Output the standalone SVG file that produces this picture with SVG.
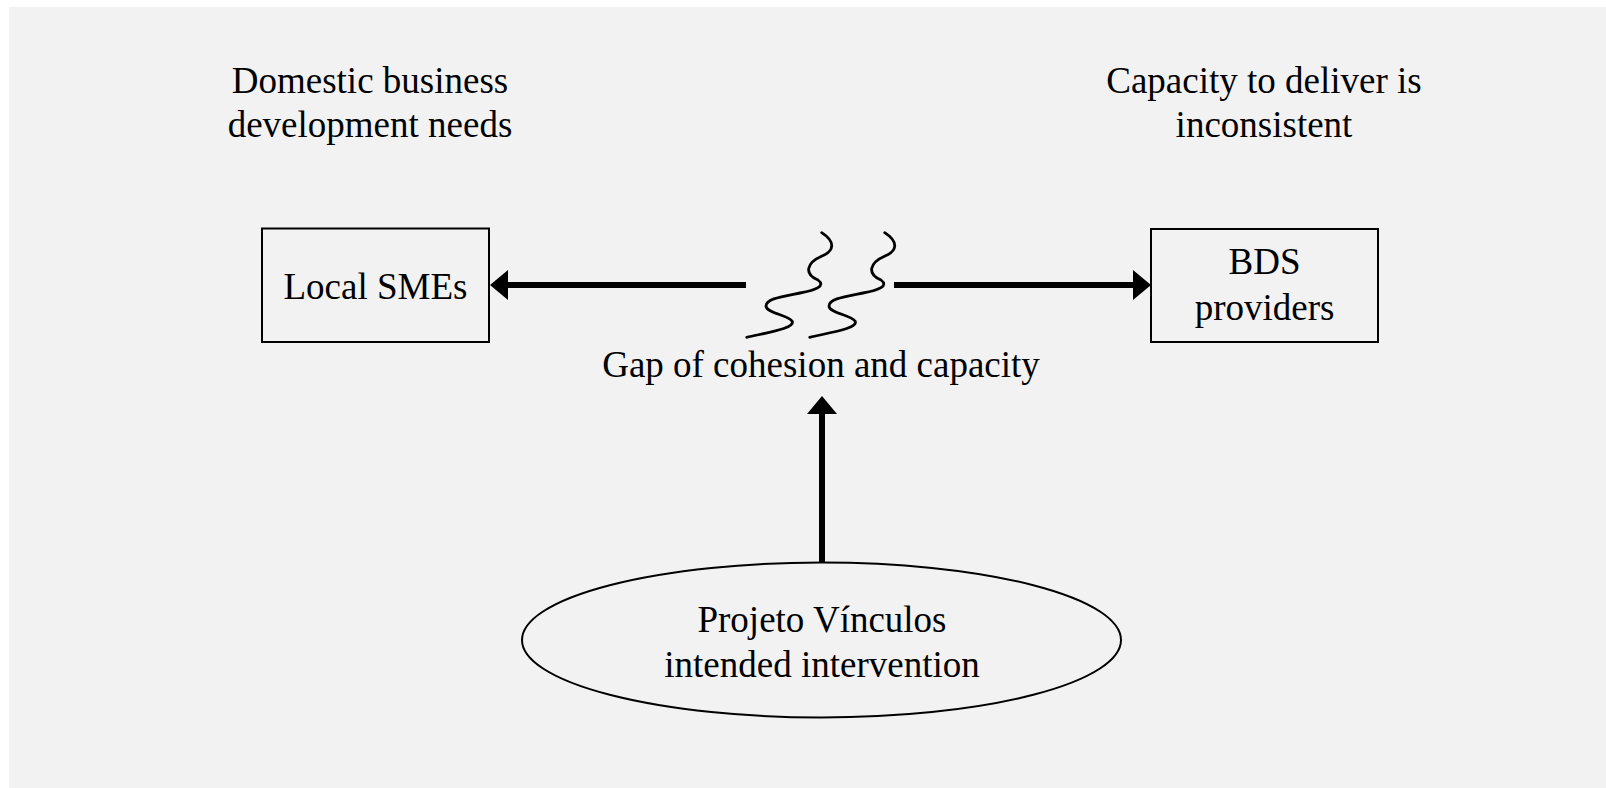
<svg xmlns="http://www.w3.org/2000/svg" width="1606" height="788" viewBox="0 0 1606 788">
<style>
  .lbl { font-family: "Liberation Serif", "Times New Roman", serif; font-size: 37px; fill: #000; text-anchor: middle; }
  .box { fill: none; stroke: #000; stroke-width: 2; }
  .conn { fill: none; stroke: #000; stroke-width: 6; }
  .wave { fill: none; stroke: #000; stroke-width: 2.8; stroke-linecap: round; }
</style>
<defs>
  <marker id="head" markerUnits="userSpaceOnUse" markerWidth="18" markerHeight="30" refX="0" refY="15" orient="auto" overflow="visible">
    <path d="M0,0 L18,15 L0,30 Z" fill="#000"/>
  </marker>
  <path id="squiggle" d="M821.7,232.7 C836,242 834,251 822,256 C806,263 804,274 818,280 C826,286 816,290 800,293 C780,297 766,299 766,306 C766,313 788,315 792,321 C796,328 770,332 746.7,337.3"/>
</defs>
<rect x="0" y="0" width="1606" height="788" fill="#ffffff"/>
<rect x="9" y="7" width="1597" height="781" fill="#f2f2f2"/>

<g id="label-domestic">
  <text class="lbl" x="370" y="92.5">Domestic business</text>
  <text class="lbl" x="370" y="136.5">development needs</text>
</g>
<g id="label-capacity">
  <text class="lbl" x="1264" y="92.5">Capacity to deliver is</text>
  <text class="lbl" x="1264" y="136.5">inconsistent</text>
</g>

<g id="node-smes">
  <rect class="box" x="262" y="228.5" width="227" height="113.5"/>
  <text class="lbl" x="375.5" y="299">Local SMEs</text>
</g>
<g id="node-bds">
  <rect class="box" x="1151" y="229" width="227" height="113"/>
  <text class="lbl" x="1264.5" y="274">BDS</text>
  <text class="lbl" x="1264.5" y="319.5">providers</text>
</g>

<g id="node-gap">
  <use href="#squiggle" class="wave"/>
  <use href="#squiggle" class="wave" transform="translate(63,0)"/>
  <text class="lbl" x="821" y="377">Gap of cohesion and capacity</text>
</g>

<g id="node-intervention">
  <ellipse class="box" cx="821.5" cy="640" rx="299.5" ry="77.5"/>
  <text class="lbl" x="822" y="632">Projeto Vínculos</text>
  <text class="lbl" x="822" y="676.5">intended intervention</text>
</g>

<g id="connectors">
  <line class="conn" x1="746" y1="285" x2="508" y2="285" marker-end="url(#head)"/>
  <line class="conn" x1="894" y1="285" x2="1133" y2="285" marker-end="url(#head)"/>
  <line class="conn" x1="822" y1="562.5" x2="822" y2="414" marker-end="url(#head)"/>
</g>
</svg>
